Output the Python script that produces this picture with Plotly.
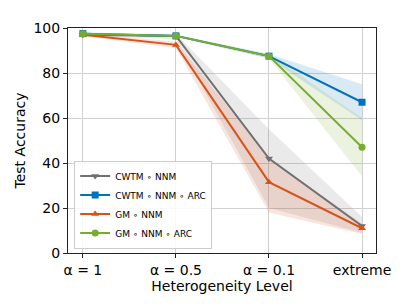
import plotly.graph_objects as go

categories = ["α = 1", "α = 0.5", "α = 0.1", "extreme"]
names = ["CWTM \u2218 NNM", "CWTM \u2218 NNM \u2218 ARC", "GM \u2218 NNM", "GM \u2218 NNM \u2218 ARC"]
means = [
    [97.0, 96.5, 42.0, 12.0],
    [97.5, 96.5, 87.5, 67.0],
    [97.0, 92.5, 31.5, 11.0],
    [97.5, 96.5, 87.5, 47.0],
]
uppers = [
    [97.5, 97.5, 55.0, 16.0],
    [98.0, 97.0, 88.5, 75.0],
    [97.5, 94.0, 42.0, 13.0],
    [98.0, 97.0, 88.5, 60.0],
]
lowers = [
    [96.5, 95.0, 20.0, 9.0],
    [97.0, 96.0, 86.5, 59.0],
    [96.5, 91.0, 18.0, 8.5],
    [97.0, 96.0, 86.5, 34.0],
]
colors = ["#707070", "#0072BD", "#D95319", "#77AC30"]
fills = ["rgba(112,112,112,0.15)", "rgba(0,114,189,0.15)", "rgba(217,83,25,0.15)", "rgba(119,172,48,0.15)"]
symbols = ["triangle-down", "square", "triangle-up", "circle"]

x = list(range(len(categories)))
fig = go.Figure()
for i in range(4):
    fig.add_trace(go.Scatter(
        x=x + x[::-1], y=uppers[i] + lowers[i][::-1], fill="toself",
        fillcolor=fills[i], line=dict(width=0), hoverinfo="skip", showlegend=False, mode="lines"))
for i in range(4):
    fig.add_trace(go.Scatter(
        x=x, y=means[i], name=names[i], mode="lines+markers",
        line=dict(color=colors[i], width=2),
        marker=dict(symbol=symbols[i], size=7, color=colors[i])))

fig.update_layout(
    width=407, height=305,
    margin=dict(l=57, r=39, t=12, b=60),
    plot_bgcolor="white", paper_bgcolor="white",
    font=dict(family="DejaVu Sans", size=14, color="black"),
    showlegend=True,
    legend=dict(x=0.02, y=0.02, xanchor="left", yanchor="bottom",
                bgcolor="rgba(255,255,255,0.85)", bordercolor="#cccccc", borderwidth=1,
                font=dict(size=9), itemwidth=30, tracegroupgap=0),
    xaxis=dict(tickmode="array", tickvals=x, ticktext=categories, range=[-0.16, 3.15],
               showgrid=True, gridcolor="#d0d0d0", gridwidth=1, showline=True, linecolor="#222",
               linewidth=1, mirror=True, ticks="outside", ticklen=4, tickcolor="#222",
               title=dict(text="Heterogeneity Level", font=dict(size=14), standoff=2),
               tickfont=dict(size=14), zeroline=False),
    yaxis=dict(range=[0, 100], tickvals=[0, 20, 40, 60, 80, 100],
               showgrid=True, gridcolor="#d0d0d0", gridwidth=1, showline=True, linecolor="#222",
               linewidth=1, mirror=True, ticks="outside", ticklen=4, tickcolor="#222",
               title=dict(text="Test Accuracy", font=dict(size=14), standoff=4),
               tickfont=dict(size=14), zeroline=False),
)
fig.write_html("out.html")
